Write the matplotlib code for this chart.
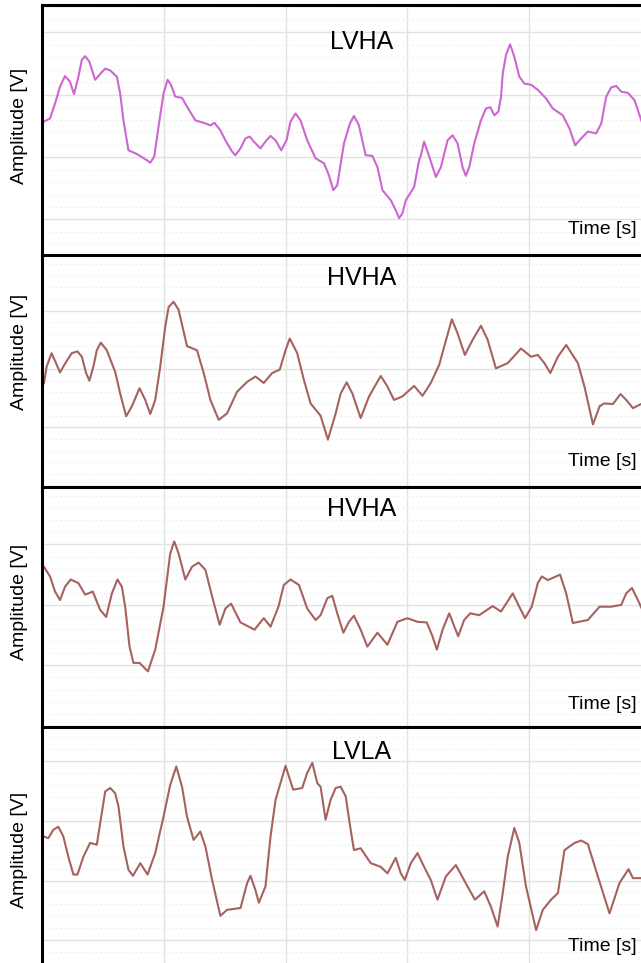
import numpy as np
import matplotlib.pyplot as plt
from matplotlib.ticker import MultipleLocator

plt.rcParams['font.family'] = ['Liberation Sans', 'DejaVu Sans']

# panel names
titles = ["LVHA", "HVHA", "HVHA", "LVLA"]

# time [s] and amplitude [V]
t1 = [0.016, 0.066, 0.107, 0.148, 0.189, 0.230, 0.263, 0.299, 0.327, 0.354, 0.389, 0.436,
      0.472, 0.519, 0.560, 0.615, 0.642, 0.669, 0.710, 0.779, 0.862, 0.889, 0.922, 0.957,
      0.998, 1.031, 1.059, 1.095, 1.150, 1.191, 1.259, 1.328, 1.383, 1.416, 1.465, 1.506,
      1.561, 1.588, 1.630, 1.671, 1.706, 1.739, 1.794, 1.835, 1.877, 1.918, 1.965, 2.008,
      2.041, 2.082, 2.123, 2.178, 2.247, 2.316, 2.356, 2.392, 2.425, 2.480, 2.529, 2.562,
      2.603, 2.658, 2.713, 2.755, 2.796, 2.864, 2.905, 2.933, 2.960, 2.988, 3.056, 3.097,
      3.111, 3.138, 3.180, 3.235, 3.276, 3.331, 3.372, 3.413, 3.454, 3.481, 3.509, 3.550,
      3.605, 3.646, 3.682, 3.715, 3.748, 3.770, 3.784, 3.811, 3.844, 3.879, 3.920, 3.961,
      4.016, 4.072, 4.140, 4.195, 4.277, 4.332, 4.379, 4.428, 4.483, 4.551, 4.593, 4.634,
      4.675, 4.716, 4.757, 4.812, 4.867, 4.908, 4.930]
a1 = [0.57, 0.62, 0.86, 1.13, 1.30, 1.21, 1.01, 1.29, 1.56, 1.62, 1.53, 1.24,
      1.32, 1.42, 1.39, 1.29, 1.02, 0.59, 0.11, 0.05, -0.05, -0.09, 0.01, 0.49,
      1.02, 1.24, 1.16, 0.97, 0.95, 0.81, 0.59, 0.55, 0.51, 0.55, 0.43, 0.27,
      0.09, 0.03, 0.14, 0.30, 0.33, 0.25, 0.14, 0.25, 0.34, 0.27, 0.11, 0.27,
      0.57, 0.70, 0.59, 0.27, -0.02, -0.10, -0.29, -0.53, -0.45, 0.22, 0.54, 0.66,
      0.51, 0.03, 0.02, -0.16, -0.53, -0.69, -0.85, -0.98, -0.90, -0.69, -0.48, -0.05,
      0.02, 0.25, 0.01, -0.32, -0.16, 0.27, 0.35, 0.22, -0.16, -0.30, -0.16, 0.22,
      0.59, 0.78, 0.80, 0.67, 0.73, 0.97, 1.34, 1.64, 1.81, 1.61, 1.29, 1.18,
      1.16, 1.08, 0.94, 0.78, 0.67, 0.46, 0.19, 0.30, 0.41, 0.38, 0.54, 0.97,
      1.12, 1.14, 1.05, 1.03, 0.91, 0.67, 0.54]

t2 = [0.016, 0.038, 0.079, 0.115, 0.148, 0.189, 0.244, 0.291, 0.327, 0.362, 0.389, 0.422,
      0.450, 0.483, 0.532, 0.601, 0.642, 0.691, 0.738, 0.801, 0.848, 0.889, 0.930, 0.971,
      1.012, 1.040, 1.081, 1.122, 1.191, 1.273, 1.328, 1.383, 1.451, 1.520, 1.602, 1.685,
      1.753, 1.821, 1.890, 1.953, 2.000, 2.035, 2.096, 2.151, 2.206, 2.288, 2.348, 2.412,
      2.453, 2.502, 2.549, 2.617, 2.686, 2.782, 2.837, 2.891, 2.960, 3.056, 3.125, 3.193,
      3.262, 3.303, 3.366, 3.413, 3.473, 3.537, 3.605, 3.660, 3.728, 3.825, 3.934, 4.016,
      4.072, 4.126, 4.175, 4.237, 4.305, 4.401, 4.455, 4.525, 4.579, 4.615, 4.689, 4.751,
      4.798, 4.853, 4.930]
a2 = [-0.25, 0.04, 0.27, 0.10, -0.06, 0.09, 0.27, 0.30, 0.21, -0.07, -0.20, 0.04,
      0.32, 0.45, 0.32, -0.05, -0.42, -0.81, -0.64, -0.33, -0.53, -0.77, -0.53, 0.04,
      0.72, 1.06, 1.15, 1.01, 0.39, 0.32, -0.07, -0.53, -0.87, -0.76, -0.39, -0.22,
      -0.13, -0.24, -0.07, -0.01, 0.32, 0.52, 0.27, -0.19, -0.59, -0.80, -1.21, -0.76,
      -0.42, -0.23, -0.42, -0.84, -0.47, -0.12, -0.30, -0.53, -0.47, -0.29, -0.46, -0.24,
      0.07, 0.38, 0.85, 0.61, 0.24, 0.50, 0.74, 0.50, 0.01, 0.10, 0.35, 0.21,
      0.24, 0.10, -0.07, 0.21, 0.41, 0.10, -0.30, -0.95, -0.64, -0.59, -0.60, -0.43,
      -0.53, -0.67, -0.59]

t3 = [0.016, 0.066, 0.107, 0.148, 0.189, 0.236, 0.299, 0.354, 0.417, 0.477, 0.527, 0.574,
      0.620, 0.656, 0.683, 0.719, 0.751, 0.801, 0.870, 0.930, 0.998, 1.053, 1.086, 1.122,
      1.177, 1.232, 1.286, 1.342, 1.397, 1.459, 1.506, 1.553, 1.630, 1.745, 1.821, 1.877,
      1.942, 1.986, 2.041, 2.110, 2.178, 2.247, 2.288, 2.343, 2.384, 2.425, 2.475, 2.521,
      2.562, 2.617, 2.672, 2.755, 2.837, 2.919, 3.001, 3.084, 3.160, 3.207, 3.243, 3.290,
      3.344, 3.418, 3.467, 3.517, 3.591, 3.701, 3.770, 3.866, 3.920, 3.967, 4.022, 4.072,
      4.105, 4.154, 4.255, 4.305, 4.360, 4.483, 4.579, 4.675, 4.757, 4.798, 4.845, 4.894,
      4.930]
a3 = [0.63, 0.47, 0.22, 0.08, 0.30, 0.42, 0.36, 0.17, 0.22, -0.08, -0.20, 0.19,
      0.42, 0.30, -0.03, -0.69, -0.96, -0.96, -1.10, -0.74, -0.03, 0.85, 1.05, 0.85,
      0.42, 0.63, 0.70, 0.58, 0.14, -0.33, -0.06, 0.02, -0.29, -0.41, -0.22, -0.36,
      -0.03, 0.33, 0.42, 0.33, -0.06, -0.25, -0.17, 0.11, 0.15, -0.14, -0.46, -0.28,
      -0.18, -0.41, -0.69, -0.46, -0.66, -0.28, -0.22, -0.28, -0.29, -0.52, -0.74, -0.41,
      -0.14, -0.52, -0.25, -0.14, -0.17, -0.02, -0.11, 0.19, -0.03, -0.22, -0.03, 0.36,
      0.47, 0.41, 0.50, 0.19, -0.30, -0.25, -0.03, -0.03, 0.00, 0.19, 0.28, 0.08,
      -0.08]

t4 = [0.011, 0.052, 0.093, 0.134, 0.175, 0.216, 0.258, 0.291, 0.340, 0.395, 0.450, 0.491,
      0.519, 0.560, 0.601, 0.628, 0.669, 0.710, 0.747, 0.807, 0.867, 0.930, 0.998, 1.053,
      1.103, 1.150, 1.191, 1.245, 1.300, 1.342, 1.397, 1.465, 1.520, 1.630, 1.685, 1.712,
      1.753, 1.781, 1.835, 1.877, 1.918, 2.000, 2.063, 2.137, 2.178, 2.220, 2.261, 2.288,
      2.329, 2.370, 2.412, 2.453, 2.494, 2.535, 2.562, 2.617, 2.700, 2.782, 2.837, 2.905,
      2.947, 2.979, 3.029, 3.084, 3.138, 3.193, 3.248, 3.317, 3.399, 3.495, 3.556, 3.632,
      3.687, 3.742, 3.784, 3.825, 3.879, 3.920, 3.975, 4.058, 4.113, 4.181, 4.237, 4.291,
      4.374, 4.428, 4.483, 4.565, 4.661, 4.743, 4.817, 4.853, 4.930]
a4 = [-0.26, -0.29, -0.15, -0.10, -0.26, -0.60, -0.90, -0.90, -0.60, -0.37, -0.40, 0.13,
      0.49, 0.55, 0.46, 0.24, -0.43, -0.82, -0.92, -0.71, -0.90, -0.54, 0.07, 0.60,
      0.91, 0.57, 0.07, -0.32, -0.18, -0.43, -0.99, -1.59, -1.49, -1.46, -1.04, -0.92,
      -1.16, -1.37, -1.10, -0.26, 0.35, 0.92, 0.52, 0.55, 0.80, 0.97, 0.63, 0.57,
      0.02, 0.35, 0.55, 0.57, 0.41, -0.15, -0.49, -0.46, -0.71, -0.77, -0.88, -0.62,
      -0.88, -0.99, -0.71, -0.54, -0.77, -0.99, -1.32, -0.93, -0.74, -1.10, -1.32, -1.18,
      -1.44, -1.77, -1.21, -0.60, -0.12, -0.37, -1.10, -1.83, -1.49, -1.32, -1.21, -0.49,
      -0.37, -0.33, -0.39, -0.93, -1.55, -1.04, -0.81, -0.96, -0.96]

times = [t1, t2, t3, t4]
amps = [a1, a2, a3, a4]
ylims = [(-1.57, 2.44), (-2.02, 1.95), (-2.02, 1.95), (-2.38, 1.57)]
colors = ["#cc66d2", "#a5625f", "#a5625f", "#a5625f"]

W, H = 641, 963
fig = plt.figure(figsize=(W / 100, H / 100), dpi=100)

# panel edges in pixels (top, bottom)
edges = [(5, 255), (255, 487), (487, 727), (727, 963)]
left = 42 / W
title_y = [42, 278, 509, 752]
ylab_y = [126, 352, 602, 850]
time_y = [230, 461, 704, 946]

for i in range(4):
    top, bot = edges[i]
    ax = fig.add_axes([left, 1 - bot / H, 1.002 - left, (bot - top) / H])
    ax.plot(times[i], amps[i], color=colors[i], lw=1.5,
            solid_joinstyle='round', solid_capstyle='round')
    ax.set_xlim(0, 4.93)
    ax.set_ylim(*ylims[i])
    ax.xaxis.set_major_locator(MultipleLocator(1))
    ax.yaxis.set_major_locator(MultipleLocator(1))
    ax.yaxis.set_minor_locator(MultipleLocator(0.2))
    ax.grid(True, which='major', color='#e2e2e2', lw=1.0)
    ax.grid(True, which='minor', axis='y', color='#ececec', lw=0.8, ls=(0, (1.5, 2.5)))
    ax.set_axisbelow(True)
    ax.tick_params(which='both', length=0, labelleft=False, labelbottom=False)
    for s in ['right', 'bottom']:
        ax.spines[s].set_visible(False)
    for s in ['left', 'top']:
        ax.spines[s].set_linewidth(2.2)
        ax.spines[s].set_color('black')

    fig.text(362 / W, 1 - title_y[i] / H, titles[i], ha='center', va='center', fontsize=18)
    fig.text(20 / W, 1 - ylab_y[i] / H, "Amplitude [V]", rotation=90,
             ha='center', va='center', fontsize=14)
    fig.text(637 / W, 1 - time_y[i] / H, "Time [s]", ha='right', va='center', fontsize=14)

plt.savefig('out.png', dpi=100)
